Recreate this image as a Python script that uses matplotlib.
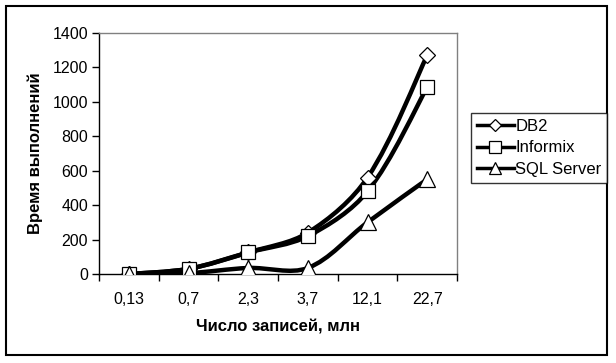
import numpy as np
import matplotlib
matplotlib.use('Agg')
import matplotlib.pyplot as plt
from matplotlib.path import Path
from matplotlib.patches import PathPatch, Rectangle
from matplotlib.lines import Line2D

plt.rcParams['font.family'] = ['Liberation Sans', 'DejaVu Sans']

categories = ['0,13', '0,7', '2,3', '3,7', '12,1', '22,7']
db2 = [0, 30, 125, 240, 560, 1270]
informix = [0, 30, 125, 220, 480, 1085]
sql_server = [0, 5, 35, 35, 300, 550]

series = [('DB2', db2, 'D', 8), ('Informix', informix, 's', 10), ('SQL Server', sql_server, '^', 11)]


def smooth_path(ax, xs, ys):
    # excel-like smoothed line: bezier built in screen space,
    # tangent split by neighbouring segment lengths
    pts = ax.transData.transform(np.column_stack([xs, ys]).astype(float))
    n = len(pts)
    verts = [pts[0]]
    codes = [Path.MOVETO]
    for i in range(n - 1):
        p0 = pts[max(i - 1, 0)]
        p1 = pts[i]
        p2 = pts[i + 1]
        p3 = pts[min(i + 2, n - 1)]
        d01 = np.hypot(*(p1 - p0))
        d12 = np.hypot(*(p2 - p1))
        d23 = np.hypot(*(p3 - p2))
        f1 = d12 / (d01 + d12) / 3.0 if d01 > 0 else 1 / 6.0
        f2 = d12 / (d12 + d23) / 3.0 if d23 > 0 else 1 / 6.0
        c1 = p1 + (p2 - p0) * f1
        c2 = p2 - (p3 - p1) * f2
        verts += [c1, c2, p2]
        codes += [Path.CURVE4] * 3
    return Path(ax.transData.inverted().transform(np.array(verts)), codes)


fig = plt.figure(figsize=(6.16, 3.63), dpi=100)
ax = fig.add_axes([99/616, 1 - 274/363, (457 - 99)/616, (274 - 33)/363])

x = np.arange(len(categories))
ax.set_xlim(-0.5, len(categories) - 0.5)
ax.set_ylim(0, 1400)

for name, vals, mk, ms in series:
    ax.add_patch(PathPatch(smooth_path(ax, x, vals), facecolor='none', edgecolor='black', lw=3.2, zorder=2))
    ax.plot(x, vals, ls='none', marker=mk, ms=ms, mfc='white', mec='black', mew=0.9, zorder=3)

ax.set_yticks(np.arange(0, 1401, 200))
ax.set_xticks(x)
ax.set_xticklabels(categories)
ax.set_xticks(np.arange(-0.5, len(categories)), minor=True)
ax.tick_params(axis='x', which='major', length=0, pad=13, labelsize=11.5)
ax.tick_params(axis='x', which='minor', length=5, width=1, direction='out')
ax.tick_params(axis='y', length=5, width=1, direction='out', labelsize=11.5, pad=3)

for side in ['top', 'right']:
    ax.spines[side].set_color('#808080')
    ax.spines[side].set_linewidth(1)
for side in ['left', 'bottom']:
    ax.spines[side].set_color('black')
    ax.spines[side].set_linewidth(1)

fig.text(278/616, 1 - 327/363, 'Число записей, млн', ha='center', va='center',
         fontsize=12, fontweight='bold')
fig.text(35/616, 1 - 153/363, 'Время выполнений', ha='center', va='center',
         rotation=90, fontsize=12, fontweight='bold')

handles = [Line2D([], [], color='black', lw=2.5, marker=mk, ms=ms * 0.8, mfc='white', mec='black', mew=0.9)
           for name, vals, mk, ms in series]
leg = fig.legend(handles, [s[0] for s in series], loc='upper left',
                 bbox_to_anchor=(471/616, 1 - 113/363), borderaxespad=0,
                 frameon=True, fancybox=False, edgecolor='black', fontsize=12,
                 handlelength=2.2, handletextpad=0.1, borderpad=0.35, labelspacing=0.4)
leg.get_frame().set_linewidth(1)

fig.patches.append(Rectangle((6/616, 1 - 355/363), 601/616, 349/363, transform=fig.transFigure,
                             fill=False, edgecolor='black', lw=1.5))

fig.savefig('out.png', dpi=100)
